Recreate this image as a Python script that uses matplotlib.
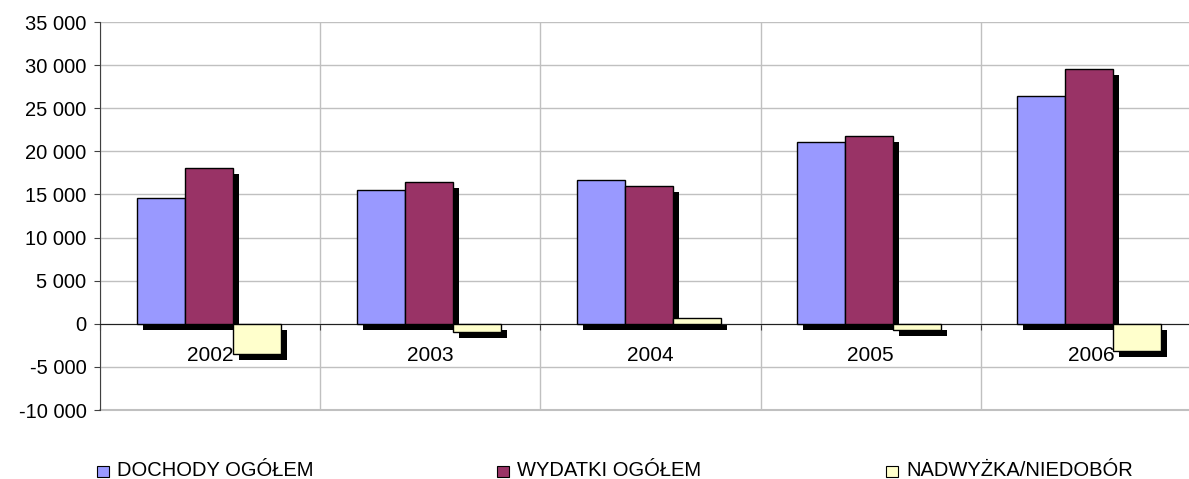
import matplotlib
matplotlib.use("Agg")
import matplotlib.pyplot as plt
import matplotlib.transforms as mtransforms
from matplotlib.patches import Rectangle
import numpy as np

plt.rcParams['font.family'] = ['Liberation Sans', 'DejaVu Sans']

years = ["2002", "2003", "2004", "2005", "2006"]
dochody = [14600, 15500, 16700, 21100, 26400]
wydatki = [18100, 16500, 16000, 21800, 29500]
nadwyzka = [-3500, -1000, 700, -700, -3100]
series_names = ["DOCHODY OGÓŁEM", "WYDATKI OGÓŁEM", "NADWYŻKA/NIEDOBÓR"]
colors = ["#9999FF", "#993366", "#FFFFCC"]
yticks = list(range(-10000, 35001, 5000))

W, H = 1189, 479
fig = plt.figure(figsize=(W / 100, H / 100), dpi=100)
ax = fig.add_axes([100 / W, 69 / H, 1101 / W, 388 / H])

x = np.arange(len(years))
bw = 0.218
shadow = mtransforms.ScaledTranslation(6 / 100, -6 / 100, fig.dpi_scale_trans)
for k, (vals, c) in enumerate(zip([dochody, wydatki, nadwyzka], colors)):
    pos = x + (k - 1) * bw - 0.007
    ax.bar(pos, vals, bw, color="black", linewidth=0, zorder=2,
           transform=ax.transData + shadow)
    ax.bar(pos, vals, bw, color=c, edgecolor="black", linewidth=1.0, zorder=3)

ax.set_xlim(-0.5, len(years) - 0.5)
ax.set_ylim(-10000, 35000)
ax.set_yticks(yticks)
ax.set_yticklabels([f"{v:,}".replace(",", " ") for v in yticks], fontsize=14.5)
ax.set_xticks(np.arange(-0.5, len(years), 1.0))
ax.set_xticklabels([])
ax.grid(True, color="#c0c0c0", linewidth=1.0, zorder=0)
ax.set_axisbelow(True)
ax.axhline(-10000, color="#c0c0c0", linewidth=1.5, zorder=0, clip_on=False)
for s in ["top", "right"]:
    ax.spines[s].set_visible(False)
ax.spines["bottom"].set_position(("data", 0))
ax.spines["bottom"].set_color("#202020")
ax.spines["left"].set_color("#404040")
ax.tick_params(axis="y", length=4.3, color="#404040", pad=5.5)
ax.tick_params(axis="x", length=4.3, color="#404040", direction="out")

for i, lab in enumerate(years):
    ax.annotate(lab, (i, 0), xytext=(0, -16), textcoords="offset points",
                ha="center", va="top", fontsize=15, zorder=5)

# legend
leg_x = [97, 497, 886]
for lx, name, c in zip(leg_x, series_names, colors):
    fig.patches.append(Rectangle((lx / W, (H - 477) / H), 12 / W, 11 / H,
                                 transform=fig.transFigure, facecolor=c,
                                 edgecolor="black", linewidth=0.8))
    fig.text((lx + 20) / W, (H - 470.5) / H, name, fontsize=14.5, va="center", ha="left")

fig.savefig("out.png", dpi=100)
